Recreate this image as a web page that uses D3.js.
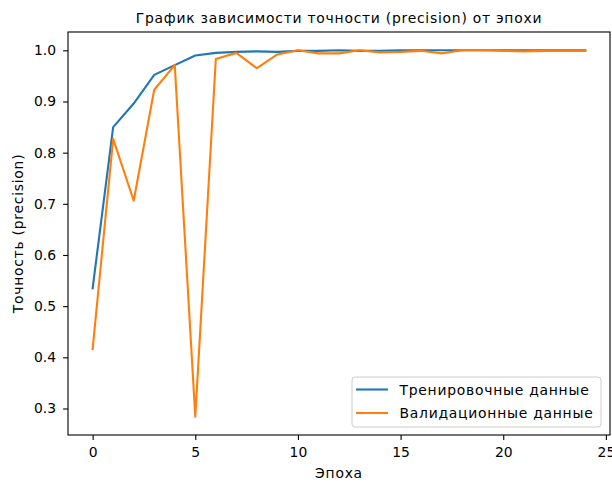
<!DOCTYPE html>
<html>
<head>
<meta charset="utf-8">
<script src="https://cdn.jsdelivr.net/npm/d3@7"></script>
<style>
	body { margin: 0; background: #fff; }
	text { font-family: "DejaVu Sans", sans-serif; fill: #000; }
	.lbl { letter-spacing: 0.75px; }
</style>
</head>
<body>
<script>

// epochs and precision values
var epochs = d3.range(0, 25);
var trainPrecision = [0.535, 0.850, 0.896, 0.952, 0.971, 0.990, 0.995, 0.997, 0.998, 0.997,
	0.999, 0.999, 1.000, 0.999, 0.999, 1.000, 1.000, 1.000, 1.000, 1.000,
	1.000, 1.000, 1.000, 1.000, 1.000];
var valPrecision = [0.416, 0.827, 0.706, 0.923, 0.971, 0.284, 0.983, 0.995, 0.965, 0.992,
	1.000, 0.994, 0.994, 1.000, 0.996, 0.997, 0.999, 0.994, 1.000, 1.000,
	0.999, 0.998, 0.999, 0.999, 0.999];
var xTicks = [0, 5, 10, 15, 20, 25];
var yTicks = [0.3, 0.4, 0.5, 0.6, 0.7, 0.8, 0.9, 1.0];
var seriesNames = ["Тренировочные данные", "Валидационные данные"];
var seriesColors = ["#1f77b4", "#ff7f0e"];

var width = 612,
	height = 484;
var margin = {top: 32, right: 2, bottom: 49, left: 68};
var innerW = width - margin.left - margin.right,
	innerH = height - margin.top - margin.bottom;

var svg = d3.select("body")
	.append("svg")
	.attr("width", width)
	.attr("height", height);

var g = svg.append("g")
	.attr("transform", "translate(" + margin.left + "," + margin.top + ")");

// matplotlib style 5% padding
var x = d3.scaleLinear()
	.domain([-1.2, 25.2])
	.range([0, innerW]);

var yMin = d3.min(valPrecision), yMax = 1.0;
var pad = (yMax - yMin) * 0.05;
var y = d3.scaleLinear()
	.domain([yMin - pad, yMax + pad])
	.range([innerH, 0]);

// axes
var xAxis = g.append("g")
	.attr("transform", "translate(0," + innerH + ")")
	.call(d3.axisBottom(x).tickValues(xTicks).tickSize(4.9).tickPadding(7).tickFormat(d3.format("d")));

var yAxis = g.append("g")
	.call(d3.axisLeft(y).tickValues(yTicks).tickSize(4.9).tickPadding(7).tickFormat(d3.format(".1f")));

[xAxis, yAxis].forEach(function(a){
	a.select(".domain").remove();
	a.selectAll(".tick line").attr("stroke", "#000").attr("stroke-width", 1.1);
	a.selectAll(".tick text").style("font-size", "13.9px").style("font-family", "DejaVu Sans");
});

// lines
var line = d3.line()
	.x(function(d, i){ return x(epochs[i]); })
	.y(function(d){ return y(d); });

[trainPrecision, valPrecision].forEach(function(s, i){
	g.append("path")
		.datum(s)
		.attr("fill", "none")
		.attr("stroke", seriesColors[i])
		.attr("stroke-width", 2.1)
		.attr("stroke-linejoin", "round")
		.attr("stroke-linecap", "square")
		.attr("d", line);
});

// frame
g.append("rect")
	.attr("width", innerW)
	.attr("height", innerH)
	.attr("fill", "none")
	.attr("stroke", "#000")
	.attr("stroke-width", 1.1);

// title and labels
svg.append("text")
	.attr("class", "lbl")
	.attr("x", margin.left + innerW / 2)
	.attr("y", margin.top - 9)
	.attr("text-anchor", "middle")
	.style("font-size", "13.9px")
	.text("График зависимости точности (precision) от эпохи");

svg.append("text")
	.attr("class", "lbl")
	.attr("x", margin.left + innerW / 2)
	.attr("y", height - 6)
	.attr("text-anchor", "middle")
	.style("font-size", "13.9px")
	.text("Эпоха");

svg.append("text")
	.attr("class", "lbl")
	.attr("transform", "translate(23," + (margin.top + innerH / 2) + ") rotate(-90)")
	.attr("text-anchor", "middle")
	.style("font-size", "13.9px")
	.text("Точность (precision)");

// legend, lower right
var legW = 249, legH = 50;
var legend = g.append("g")
	.attr("transform", "translate(" + (innerW - 9 - legW) + "," + (innerH - 8 - legH) + ")");

legend.append("rect")
	.attr("width", legW)
	.attr("height", legH)
	.attr("rx", 3)
	.attr("fill", "#fff")
	.attr("fill-opacity", 0.8)
	.attr("stroke", "#ccc")
	.attr("stroke-width", 1);

seriesNames.forEach(function(name, i){
	var ly = 12.5 + i * 23.5;
	legend.append("line")
		.attr("x1", 4).attr("x2", 36)
		.attr("y1", ly).attr("y2", ly)
		.attr("stroke", seriesColors[i])
		.attr("stroke-width", 2.1);
	legend.append("text")
		.attr("class", "lbl")
		.attr("x", 47.5)
		.attr("y", ly + 5)
		.style("font-size", "13.9px")
		.text(name);
});

</script>
</body>
</html>
